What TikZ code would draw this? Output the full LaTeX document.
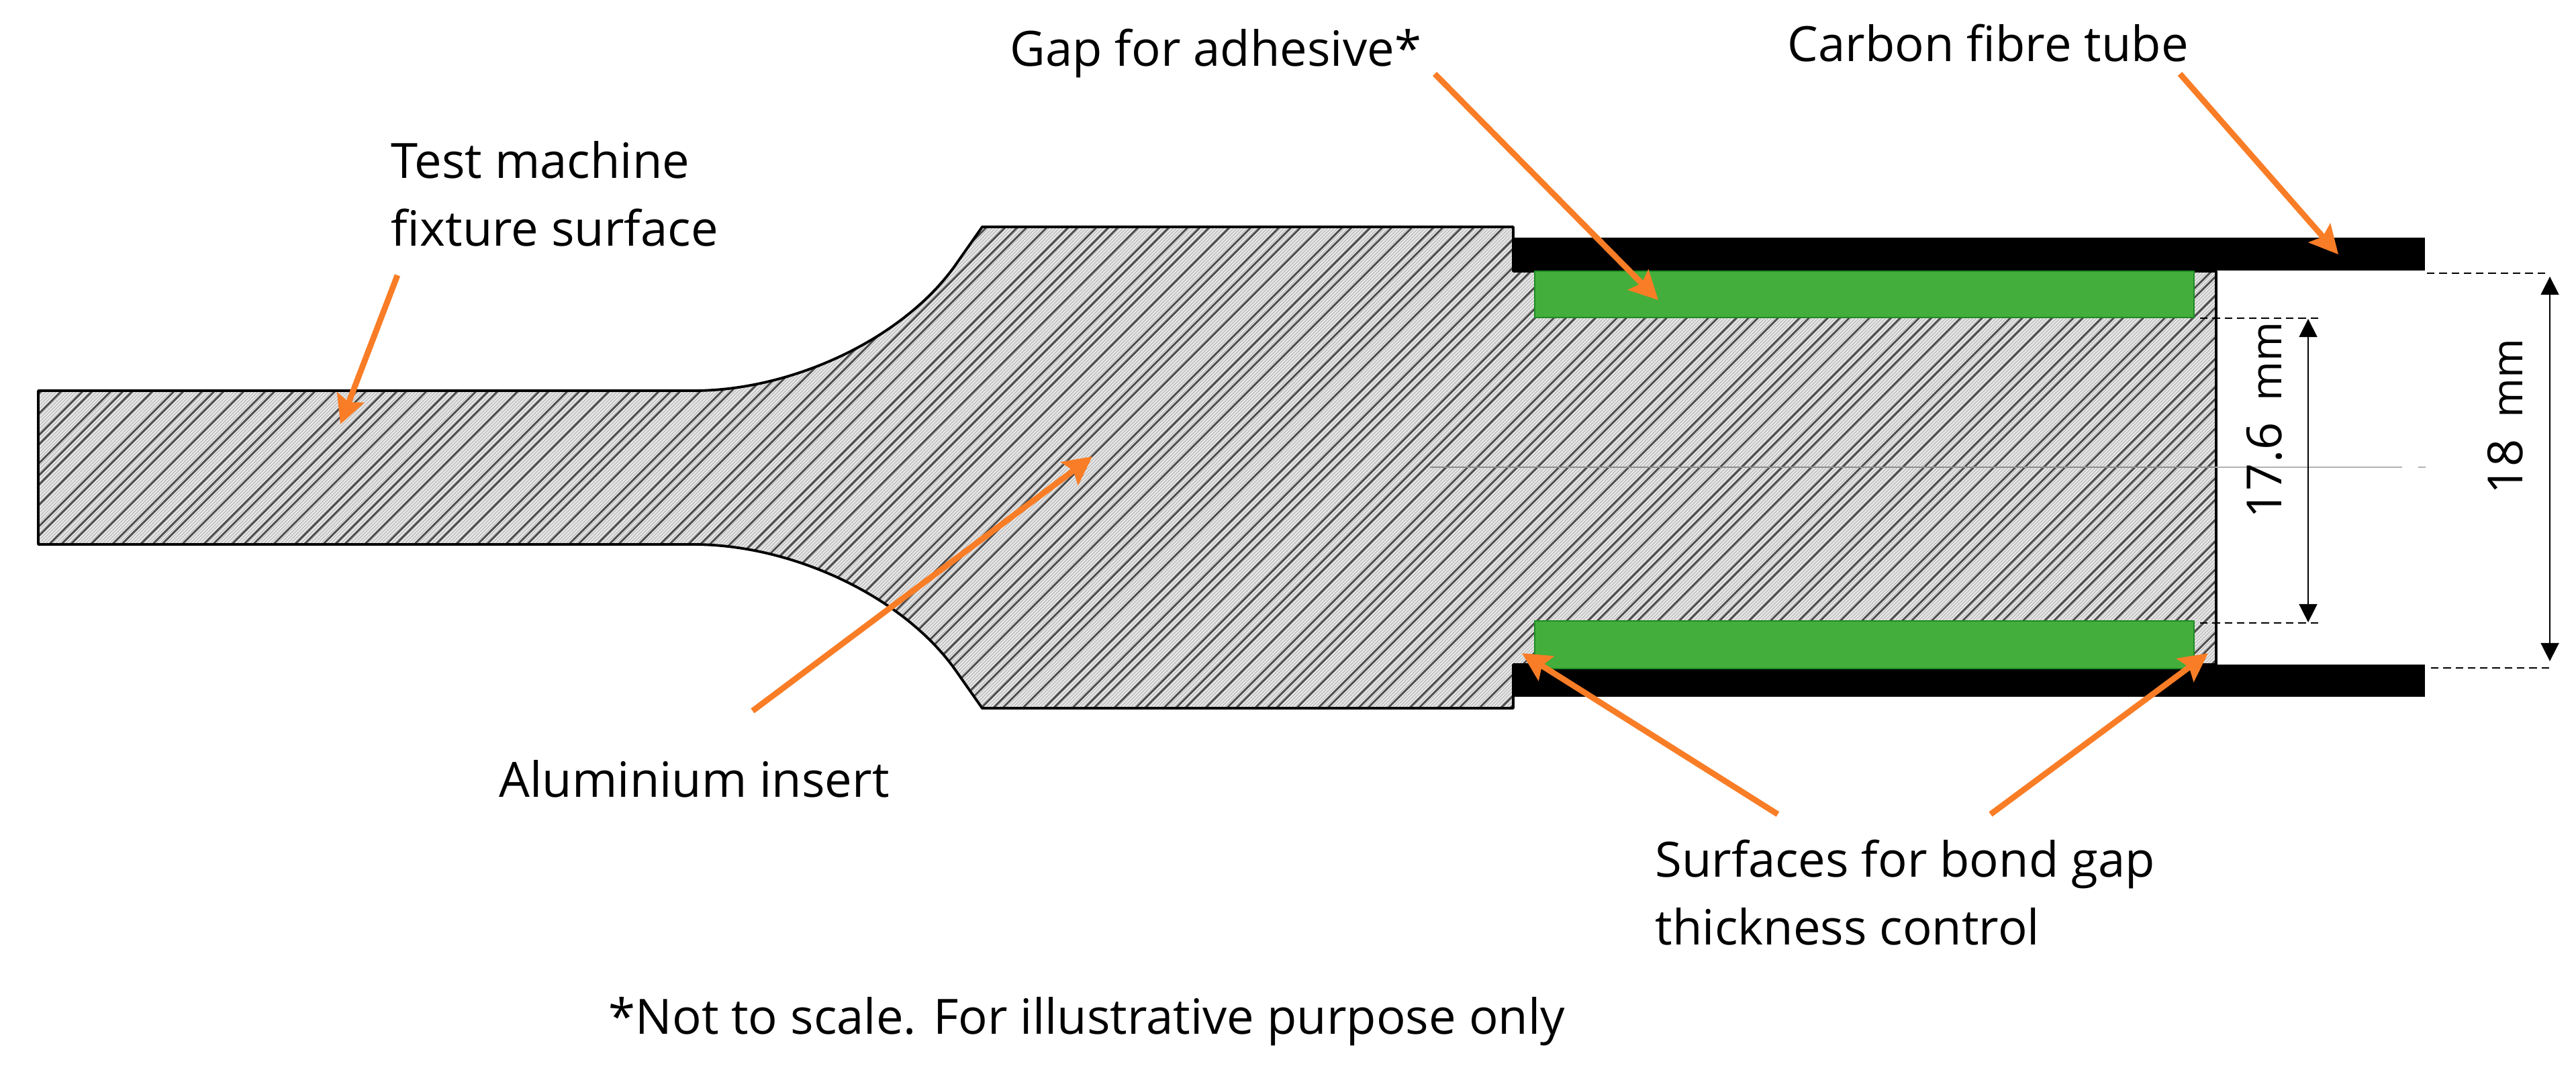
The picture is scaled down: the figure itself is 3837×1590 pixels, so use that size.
\documentclass[tikz,border=0pt]{standalone}
\usepackage{fontspec}
\setmainfont{Open Sans}
\usetikzlibrary{arrows.meta}
\definecolor{callout}{HTML}{F97D26}
\definecolor{glue}{HTML}{43AE3B}
\definecolor{glueline}{HTML}{1F8A24}
\newcommand{\bodypath}{(57,582) -- (1033,582) .. controls (1180,582) and (1345,505) .. (1423,395) -- (1463,338)
    -- (2254,338) -- (2254,404) -- (3301,404) -- (3301,990) -- (2254,990) -- (2254,1055)
    -- (1463,1055) -- (1423,998) .. controls (1345,888) and (1180,811) .. (1033,811) -- (57,811) -- cycle}

\begin{document}
\begin{tikzpicture}[x=0.01cm, y=-0.01cm,
    lab/.style = {font=\fontsize{20.6}{28.45}\selectfont, anchor=base west, inner sep=0pt, align=left},
    num/.style = {font=\fontsize{20.5}{24}\selectfont, anchor=base west, inner sep=0pt, rotate=90},
    call/.style = {-{Stealth[length=12pt, width=12pt, inset=2pt]}, callout, line width=2.5pt},
    dimline/.style = {{Triangle[length=7.7pt, width=7.6pt]}-{Triangle[length=7.7pt, width=7.6pt]}, line width=0.8pt},
    dashline/.style = {line width=0.6pt, dash pattern=on 3.2pt off 2pt},
    tube/.style = {fill=black},
    gap/.style = {fill=glue, draw=glueline, line width=0.7pt}]
    \useasboundingbox (0,0) rectangle (3837,1590);

    % Insert
    \fill[black!27] \bodypath;
    \begin{scope}
        \clip \bodypath;
        \foreach \c in {630,635,...,4300}
            \draw[white!82!gray, line width=0.6pt] ({\c-1100},1100) -- ({\c-300},300);
        \foreach \c in {630,766,...,4300}
            \foreach \d in {0,14,44,76,90,118}
                \draw[black!70, line width=0.8pt] ({\c+\d-1100},1100) -- ({\c+\d-300},300);
    \end{scope}
    \draw[line width=1.1pt, line join=round] \bodypath;

    % Centre line
    \coordinate (c1) at (2130,696);
    \coordinate (c2) at (3301,696);
    \coordinate (c3) at (3578,696);
    \coordinate (c4) at (3602,696);
    \coordinate (c5) at (3613,696);
    \draw[black!45, line width=0.5pt] (c1) -- (c2);
    \draw[black!30, line width=0.8pt] (c2) -- (c3);
    \draw[black!30, line width=0.8pt] (c4) -- (c5);

    % Tube and adhesive
    \path[tube] (2254,354) rectangle (3612,403);
    \path[tube] (2254,990) rectangle (3612,1038);
    \path[gap] (2286,404) rectangle (3268,473);
    \path[gap] (2286,925) rectangle (3268,996);

    % Labels
    \node[lab] (fixture) at (582,366) {Test machine\\fixture surface};
    \node[lab] (adhesive) at (1504,98) {Gap for adhesive*};
    \node[lab] (carbon) at (2662,91) {Carbon fibre tube};
    \node[lab] (insert) at (743,1187) {Aluminium insert};
    \node[lab] (surfaces) at (2465,1407) {Surfaces for bond gap\\thickness control};
    \node[lab] (note) at (906,1540) {*Not to scale. For illustrative purpose only};
    \node[num] (inner) at (3398,773) {17.6\hspace{9pt}{\fontsize{18}{18}\selectfont mm}};
    \node[num] (outer) at (3757,737) {18\hspace{9pt}{\fontsize{18}{18}\selectfont mm}};

    % Dimensions
    \coordinate (a1) at (3277,474);
    \coordinate (a2) at (3455,474);
    \coordinate (a3) at (3277,928);
    \coordinate (a4) at (3455,928);
    \coordinate (a5) at (3438,475);
    \coordinate (a6) at (3438,927);
    \coordinate (b1) at (3615,407);
    \coordinate (b2) at (3795,407);
    \coordinate (b3) at (3621,995);
    \coordinate (b4) at (3799,995);
    \coordinate (b5) at (3798,412);
    \coordinate (b6) at (3798,985);
    \draw[dashline] (a1) -- (a2);
    \draw[dashline] (a3) -- (a4);
    \draw[dashline] (b1) -- (b2);
    \draw[dashline] (b3) -- (b4);
    \draw[dimline] (a5) -- (a6);
    \draw[dimline] (b5) -- (b6);

    % Callouts
    \coordinate (s1) at (592,410);
    \coordinate (t1) at (507,632);
    \coordinate (s2) at (1121,1059);
    \coordinate (t2) at (1627,680);
    \coordinate (s3) at (2137,110);
    \coordinate (t3) at (2470,447);
    \coordinate (s4) at (3247,110);
    \coordinate (t4) at (3483,379);
    \coordinate (s5) at (2648,1213);
    \coordinate (t5) at (2267,973);
    \coordinate (s6) at (2965,1213);
    \coordinate (t6) at (3289,973);
    \draw[call] (s1) -- (t1);
    \draw[call] (s2) -- (t2);
    \draw[call] (s3) -- (t3);
    \draw[call] (s4) -- (t4);
    \draw[call] (s5) -- (t5);
    \draw[call] (s6) -- (t6);
\end{tikzpicture}
\end{document}
